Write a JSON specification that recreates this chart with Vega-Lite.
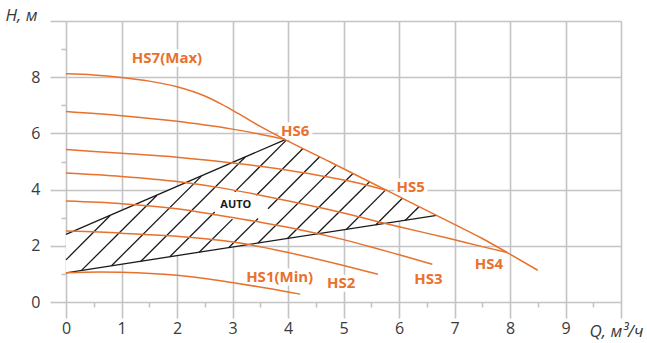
{
  "$schema": "https://vega.github.io/schema/vega-lite/v6.json",
  "width": 555,
  "height": 281,
  "autosize": "none",
  "padding": {"left": 66, "top": 21, "right": 26, "bottom": 41},
  "background": "white",
  "config": {
    "view": {"stroke": null},
    "axis": {
      "domain": false,
      "gridColor": "#c4c4c4",
      "gridWidth": 1.6,
      "tickColor": "#c4c4c4",
      "tickWidth": 1.6,
      "labelFont": "Open Sans",
      "labelFontSize": 16,
      "labelColor": "#3a3a3a",
      "titleFont": "Open Sans",
      "titleFontSize": 17,
      "titleFontWeight": "normal",
      "titleFontStyle": "italic",
      "titleColor": "#3a3a3a"
    }
  },
  "datasets": {
    "curves": [
      {"s": "HS7", "x": 0, "y": 8.12}, {"s": "HS7", "x": 0.5, "y": 8.08}, {"s": "HS7", "x": 1, "y": 7.99}, {"s": "HS7", "x": 1.5, "y": 7.86}, {"s": "HS7", "x": 2, "y": 7.66}, {"s": "HS7", "x": 2.5, "y": 7.33}, {"s": "HS7", "x": 2.8, "y": 7.04}, {"s": "HS7", "x": 3.1, "y": 6.71}, {"s": "HS7", "x": 3.5, "y": 6.25}, {"s": "HS7", "x": 3.94, "y": 5.79}, {"s": "HS7", "x": 4.75, "y": 4.99}, {"s": "HS7", "x": 5.78, "y": 3.97}, {"s": "HS7", "x": 6.91, "y": 2.85}, {"s": "HS7", "x": 7.5, "y": 2.26}, {"s": "HS7", "x": 7.95, "y": 1.76}, {"s": "HS7", "x": 8.5, "y": 1.13},
      {"s": "HS6", "x": 0, "y": 6.78}, {"s": "HS6", "x": 1, "y": 6.63}, {"s": "HS6", "x": 2, "y": 6.43}, {"s": "HS6", "x": 2.5, "y": 6.3}, {"s": "HS6", "x": 2.95, "y": 6.17}, {"s": "HS6", "x": 3.5, "y": 5.97}, {"s": "HS6", "x": 3.94, "y": 5.79},
      {"s": "HS5", "x": 0, "y": 5.43}, {"s": "HS5", "x": 1, "y": 5.29}, {"s": "HS5", "x": 2, "y": 5.15}, {"s": "HS5", "x": 2.77, "y": 5.0}, {"s": "HS5", "x": 3.5, "y": 4.83}, {"s": "HS5", "x": 4.22, "y": 4.62}, {"s": "HS5", "x": 4.75, "y": 4.44}, {"s": "HS5", "x": 5.3, "y": 4.22}, {"s": "HS5", "x": 5.78, "y": 3.97},
      {"s": "HS4", "x": 0, "y": 4.59}, {"s": "HS4", "x": 1, "y": 4.47}, {"s": "HS4", "x": 2, "y": 4.29}, {"s": "HS4", "x": 2.77, "y": 4.07}, {"s": "HS4", "x": 3.5, "y": 3.8}, {"s": "HS4", "x": 4.1, "y": 3.56}, {"s": "HS4", "x": 4.75, "y": 3.28}, {"s": "HS4", "x": 5.5, "y": 2.92}, {"s": "HS4", "x": 6.02, "y": 2.67}, {"s": "HS4", "x": 6.91, "y": 2.26}, {"s": "HS4", "x": 7.5, "y": 1.97}, {"s": "HS4", "x": 7.95, "y": 1.76},
      {"s": "HS3", "x": 0, "y": 3.59}, {"s": "HS3", "x": 1, "y": 3.5}, {"s": "HS3", "x": 2, "y": 3.32}, {"s": "HS3", "x": 2.77, "y": 3.08}, {"s": "HS3", "x": 3.5, "y": 2.84}, {"s": "HS3", "x": 4.15, "y": 2.6}, {"s": "HS3", "x": 5.0, "y": 2.22}, {"s": "HS3", "x": 5.5, "y": 1.96}, {"s": "HS3", "x": 6.02, "y": 1.67}, {"s": "HS3", "x": 6.6, "y": 1.34},
      {"s": "HS2", "x": 0, "y": 2.53}, {"s": "HS2", "x": 0.6, "y": 2.49}, {"s": "HS2", "x": 1, "y": 2.45}, {"s": "HS2", "x": 2, "y": 2.34}, {"s": "HS2", "x": 2.77, "y": 2.2}, {"s": "HS2", "x": 3.19, "y": 2.08}, {"s": "HS2", "x": 4, "y": 1.76}, {"s": "HS2", "x": 5, "y": 1.3}, {"s": "HS2", "x": 5.62, "y": 0.99},
      {"s": "HS1", "x": 0, "y": 1.04}, {"s": "HS1", "x": 0.6, "y": 1.07}, {"s": "HS1", "x": 1, "y": 1.06}, {"s": "HS1", "x": 2, "y": 0.95}, {"s": "HS1", "x": 2.5, "y": 0.84}, {"s": "HS1", "x": 3, "y": 0.69}, {"s": "HS1", "x": 3.6, "y": 0.5}, {"s": "HS1", "x": 4.22, "y": 0.28}
    ],
    "hatch": [
      {"x": 0, "y": 2.41, "x2": 3.94, "y2": 5.77},
      {"x": 0, "y": 1.04, "x2": 6.68, "y2": 3.08},
      {"x": 0, "y": 1.5, "x2": 0.8, "y2": 3.09},
      {"x": 0.28, "y": 1.125, "x2": 1.64, "y2": 3.8},
      {"x": 0.82, "y": 1.29, "x2": 2.44, "y2": 4.48},
      {"x": 1.35, "y": 1.45, "x2": 3.23, "y2": 5.16},
      {"x": 1.87, "y": 1.61, "x2": 2.68, "y2": 3.2},
      {"x": 3.04, "y": 3.92, "x2": 3.97, "y2": 5.76},
      {"x": 2.4, "y": 1.77, "x2": 3.0, "y2": 2.95},
      {"x": 3.43, "y": 3.8, "x2": 4.27, "y2": 5.46},
      {"x": 2.93, "y": 1.93, "x2": 3.46, "y2": 2.97},
      {"x": 3.64, "y": 3.32, "x2": 4.57, "y2": 5.17},
      {"x": 3.46, "y": 2.1, "x2": 4.87, "y2": 4.87},
      {"x": 3.99, "y": 2.26, "x2": 5.17, "y2": 4.57},
      {"x": 4.52, "y": 2.42, "x2": 5.47, "y2": 4.28},
      {"x": 5.05, "y": 2.58, "x2": 5.76, "y2": 3.99},
      {"x": 5.58, "y": 2.74, "x2": 6.06, "y2": 3.69},
      {"x": 6.11, "y": 2.9, "x2": 6.36, "y2": 3.39}
    ],
    "poly": [
      {"x": 0, "top": 2.41, "bot": 1.04},
      {"x": 3.94, "top": 5.77, "bot": 2.24},
      {"x": 6.68, "top": 3.08, "bot": 3.08}
    ],
    "labels": [
      {"t": "HS7(Max)", "x": 1.82, "y": 8.67, "k": "hs"},
      {"t": "HS6", "x": 4.13, "y": 6.1, "k": "hs"},
      {"t": "HS5", "x": 6.21, "y": 4.08, "k": "hs"},
      {"t": "HS4", "x": 7.62, "y": 1.37, "k": "hs"},
      {"t": "HS3", "x": 6.53, "y": 0.83, "k": "hs"},
      {"t": "HS2", "x": 4.96, "y": 0.66, "k": "hs"},
      {"t": "HS1(Min)", "x": 3.85, "y": 0.89, "k": "hs"},
      {"t": "AUTO", "x": 3.06, "y": 3.44, "k": "auto"}
    ]
  },
  "encoding": {
    "x": {
      "field": "x", "type": "quantitative",
      "scale": {"domain": [0, 10], "nice": false, "zero": false},
      "axis": {
        "title": "Q, м³/ч",
        "values": [0, 0.5, 1, 1.5, 2, 2.5, 3, 3.5, 4, 4.5, 5, 5.5, 6, 6.5, 7, 7.5, 8, 8.5, 9, 9.5, 10],
        "labelExpr": "datum.value % 1 === 0 && datum.value < 10 ? '' + datum.value : ''",
        "tickSize": {"condition": {"test": "datum.value % 1 === 0", "value": 16}, "value": 5},
        "gridOpacity": {"condition": {"test": "datum.value % 1 === 0", "value": 1}, "value": 0},
        "labelPadding": 2,
        "labelFlush": false,
        "labelOverlap": false,
        "titleX": 523,
        "titleY": 29,
        "titleAlign": "left",
        "titleBaseline": "middle"
      }
    },
    "y": {
      "field": "y", "type": "quantitative",
      "scale": {"domain": [0, 10], "nice": false, "zero": false},
      "axis": {
        "title": "H, м",
        "values": [0, 1, 2, 3, 4, 5, 6, 7, 8, 9, 10],
        "labelExpr": "datum.value % 2 === 0 && datum.value < 10 ? '' + datum.value : ''",
        "tickSize": {"condition": {"test": "datum.value % 2 === 0", "value": 16}, "value": 5},
        "gridOpacity": {"condition": {"test": "datum.value % 2 === 0", "value": 1}, "value": 0},
        "labelPadding": 10,
        "labelFlush": false,
        "labelOverlap": false,
        "titleAngle": 0,
        "titleX": -61,
        "titleY": -6,
        "titleAlign": "left",
        "titleBaseline": "middle"
      }
    }
  },
  "layer": [
    {
      "data": {"name": "poly"},
      "mark": {"type": "area", "color": "white", "opacity": 1},
      "encoding": {
        "y": {"field": "top", "type": "quantitative"},
        "y2": {"field": "bot"}
      }
    },
    {
      "data": {"name": "labels"},
      "mark": {"type": "text", "font": "Open Sans", "fontWeight": "bold", "fontSize": 15, "fill": "white", "stroke": "white", "strokeWidth": 7, "baseline": "middle", "align": "center"},
      "encoding": {
        "text": {"field": "t"},
        "size": {"condition": {"test": "datum.k === 'auto'", "value": 11}, "value": 15}
      }
    },
    {
      "data": {"name": "hatch"},
      "mark": {"type": "rule", "color": "#1a1a1a", "strokeWidth": 1.3},
      "encoding": {
        "x2": {"field": "x2"},
        "y2": {"field": "y2"}
      }
    },
    {
      "data": {"name": "curves"},
      "mark": {"type": "line", "color": "#e8712d", "strokeWidth": 1.5, "interpolate": "monotone"},
      "encoding": {
        "detail": {"field": "s"}
      }
    },
    {
      "data": {"name": "labels"},
      "mark": {"type": "text", "font": "Open Sans", "fontWeight": "bold", "baseline": "middle", "align": "center"},
      "encoding": {
        "text": {"field": "t"},
        "size": {"condition": {"test": "datum.k === 'auto'", "value": 11}, "value": 15},
        "color": {"condition": {"test": "datum.k === 'auto'", "value": "#1a1a1a"}, "value": "#e8712d"}
      }
    }
  ]
}
